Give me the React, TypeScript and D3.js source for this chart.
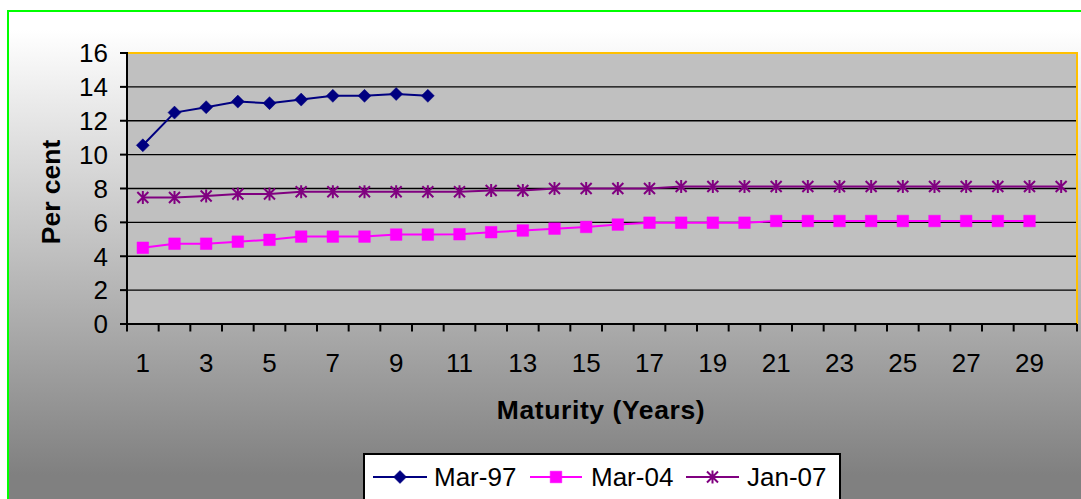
import React from 'react';
import * as d3 from 'd3';

const maturities = [1, 2, 3, 4, 5, 6, 7, 8, 9, 10, 11, 12, 13, 14, 15, 16, 17, 18, 19, 20, 21, 22, 23, 24, 25, 26, 27, 28, 29, 30];
const xTickLabels = [1, 3, 5, 7, 9, 11, 13, 15, 17, 19, 21, 23, 25, 27, 29];
const yTicks = [0, 2, 4, 6, 8, 10, 12, 14, 16];
const mar97 = [10.55, 12.48, 12.8, 13.13, 13.04, 13.25, 13.47, 13.47, 13.58, 13.47];
const mar04 = [4.5, 4.74, 4.74, 4.86, 4.97, 5.16, 5.16, 5.16, 5.28, 5.28, 5.3, 5.42, 5.52, 5.63, 5.73, 5.87, 5.98, 5.98, 5.98, 5.98, 6.08, 6.08, 6.08, 6.08, 6.08, 6.08, 6.08, 6.08, 6.08];
const jan07 = [7.47, 7.47, 7.56, 7.68, 7.68, 7.81, 7.81, 7.81, 7.81, 7.81, 7.81, 7.88, 7.88, 8.0, 8.0, 8.0, 8.0, 8.12, 8.12, 8.12, 8.12, 8.12, 8.12, 8.12, 8.12, 8.12, 8.12, 8.12, 8.12, 8.12];
const seriesNames = ['Mar-97', 'Mar-04', 'Jan-07'];
const seriesColors = ['#000080', '#FF00FF', '#800080'];

const W = 1081;
const H = 499;
const L = 127, R = 1077, T = 53, B = 324;
const FONT = '"Liberation Sans", Arial, sans-serif';

const markerPaths = [
  'M0,-6.5L6.5,0L0,6.5L-6.5,0Z',
  'M-5.8,-5.8H5.8V5.8H-5.8Z',
  'M0,-6.5V6.5M-5.5,-5.5L5.5,5.5M-5.5,5.5L5.5,-5.5',
];

export default function App() {
  const x = d3.scaleBand<number>().domain(maturities).range([L, R]).padding(0);
  const y = d3.scaleLinear().domain([0, 16]).range([B, T]);
  const cx = (m: number) => (x(m) as number) + x.bandwidth() / 2;
  const data = [mar97, mar04, jan07];
  const line = d3.line<number>().x((_, i) => cx(maturities[i])).y((d) => y(d));

  const boundaries = maturities.map((m) => x(m) as number).concat([R]);

  const legendItems = [
    { lx1: 373, lx2: 427, tx: 434 },
    { lx1: 530, lx2: 582, tx: 591 },
    { lx1: 686, lx2: 739, tx: 747 },
  ];

  return (
    <svg width={W} height={H} style={{ position: 'absolute', left: 0, top: 0 }} xmlns="http://www.w3.org/2000/svg">
      <defs>
        <linearGradient id="bg" gradientUnits="userSpaceOnUse" x1="0" y1="30" x2="0" y2="475">
          <stop offset="0" stopColor="#ffffff" />
          <stop offset="1" stopColor="#808080" />
        </linearGradient>
      </defs>
      <rect x={0} y={0} width={W} height={H} fill="#ffffff" />
      <rect x={8} y={11} width={1100} height={520} fill="url(#bg)" stroke="#00FF00" strokeWidth={2} />

      {/* plot area */}
      <rect x={L} y={T} width={R - L} height={B - T} fill="#C0C0C0" />
      {yTicks.filter((t) => t > 0 && t < 16).map((t) => (
        <line key={t} x1={L} x2={R} y1={y(t)} y2={y(t)} stroke="#000" strokeWidth={1.4} />
      ))}
      <path d={`M${L},${T}H${R}V${B}`} fill="none" stroke="#FFC000" strokeWidth={2} />

      {/* axes */}
      <line x1={L} x2={L} y1={T - 1} y2={B} stroke="#000" strokeWidth={2} />
      <line x1={L - 1} x2={R} y1={B} y2={B} stroke="#000" strokeWidth={2} />
      {yTicks.map((t) => (
        <g key={t}>
          <line x1={L - 7} x2={L} y1={y(t)} y2={y(t)} stroke="#000" strokeWidth={2} />
          <text x={108} y={y(t) + 9.3} textAnchor="end" fontFamily={FONT} fontSize={26} fill="#000">{t}</text>
        </g>
      ))}
      {boundaries.map((b, i) => (
        <line key={i} x1={b} x2={b} y1={B} y2={B + 7.5} stroke="#000" strokeWidth={2} />
      ))}
      {xTickLabels.map((m) => (
        <text key={m} x={cx(m)} y={372} textAnchor="middle" fontFamily={FONT} fontSize={26} fill="#000">{m}</text>
      ))}

      {/* axis titles */}
      <text x={601} y={419} textAnchor="middle" fontFamily={FONT} fontSize={26.5} fontWeight="bold" letterSpacing={0.6} fill="#000">Maturity (Years)</text>
      <text transform="translate(60,192) rotate(-90)" textAnchor="middle" fontFamily={FONT} fontSize={26.5} fontWeight="bold" fill="#000">Per cent</text>

      {/* series */}
      {data.map((d, si) => (
        <g key={si}>
          <path d={line(d) as string} fill="none" stroke={seriesColors[si]} strokeWidth={2} />
          {d.map((v, i) => (
            <path
              key={i}
              transform={`translate(${cx(maturities[i])},${y(v)})`}
              d={markerPaths[si]}
              fill={si === 2 ? 'none' : seriesColors[si]}
              stroke={seriesColors[si]}
              strokeWidth={si === 2 ? 2 : 0.5}
            />
          ))}
        </g>
      ))}

      {/* legend */}
      <rect x={364} y={454} width={476} height={70} fill="#ffffff" stroke="#000" strokeWidth={2} />
      {legendItems.map((it, si) => (
        <g key={si}>
          <line x1={it.lx1} x2={it.lx2} y1={477} y2={477} stroke={seriesColors[si]} strokeWidth={2} />
          <path
            transform={`translate(${(it.lx1 + it.lx2) / 2},477)`}
            d={markerPaths[si]}
            fill={si === 2 ? 'none' : seriesColors[si]}
            stroke={seriesColors[si]}
            strokeWidth={si === 2 ? 2 : 0.5}
          />
          <text x={it.tx} y={486} fontFamily={FONT} fontSize={26} fill="#000">{seriesNames[si]}</text>
        </g>
      ))}
    </svg>
  );
}
